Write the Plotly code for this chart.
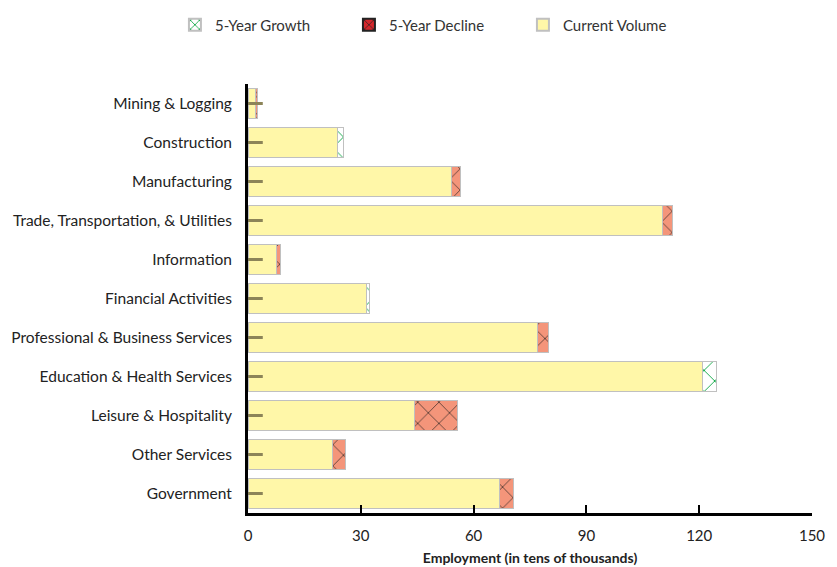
import plotly.graph_objects as go

categories = ["Mining & Logging", "Construction", "Manufacturing",
              "Trade, Transportation, & Utilities", "Information",
              "Financial Activities", "Professional & Business Services",
              "Education & Health Services", "Leisure & Hospitality",
              "Other Services", "Government"]
current_volume = [1.9, 23.7, 54.0, 110.2, 7.7, 31.4, 76.9, 121.0, 44.4, 22.6, 66.8]
growth_5yr = [0, 1.6, 0, 0, 0, 1.0, 0, 3.5, 0, 0, 0]
decline_5yr = [0.7, 0, 2.6, 2.6, 1.0, 0, 2.9, 0, 11.4, 3.2, 3.7]
base_marker = [1.7] * len(categories)
x_ticks = [0, 30, 60, 90, 120, 150]

FONT = "Lato, Open Sans, sans-serif"
border = dict(color="#c0c0c0", width=1)

fig = go.Figure()
fig.add_trace(go.Bar(y=categories, x=current_volume, orientation="h", name="Current Volume",
                     marker=dict(color="#FFF7A8", line=border), width=0.75,
                     showlegend=False))
fig.add_trace(go.Bar(y=categories, x=growth_5yr, orientation="h", name="5-Year Growth",
                     marker=dict(color="white", line=border,
                                 pattern=dict(shape="x", fgcolor="#0FA845", bgcolor="white",
                                              size=15, solidity=0.12, fgopacity=1)),
                     width=0.75, showlegend=False))
fig.add_trace(go.Bar(y=categories, x=decline_5yr, orientation="h", name="5-Year Decline",
                     marker=dict(color="#F4957A", line=border,
                                 pattern=dict(shape="x", fgcolor="#1a1a1a", bgcolor="#F4957A",
                                              size=15, solidity=0.08, fgopacity=1)),
                     width=0.75, showlegend=False))
fig.add_trace(go.Scatter(y=categories, x=base_marker, mode="markers", showlegend=False,
                         hoverinfo="skip",
                         marker=dict(symbol="line-ew", size=12,
                                     line=dict(color="#8C8458", width=3))))

# legend entries
fig.add_trace(go.Bar(y=[None], x=[None], orientation="h", name="5-Year Growth",
                     marker=dict(color="white", line=dict(color="#c0c0c0", width=1),
                                 pattern=dict(shape="x", fgcolor="#0FA845", bgcolor="white",
                                              size=8, solidity=0.25, fgopacity=1))))
fig.add_trace(go.Bar(y=[None], x=[None], orientation="h", name="5-Year Decline",
                     marker=dict(color="#D4262B", line=dict(color="#222222", width=1),
                                 pattern=dict(shape="x", fgcolor="#222222", bgcolor="#D4262B",
                                              size=8, solidity=0.2, fgopacity=1))))
fig.add_trace(go.Bar(y=[None], x=[None], orientation="h", name="Current Volume",
                     marker=dict(color="#FFF7A8", line=dict(color="#c0c0c0", width=1))))

fig.update_layout(
    barmode="stack",
    width=837, height=567,
    margin=dict(l=248, r=25, t=84, b=54, autoexpand=False),
    paper_bgcolor="white", plot_bgcolor="white",
    font=dict(family=FONT, size=15, color="#222222"),
    bargap=0.25,
    legend=dict(orientation="h", xref="container", yref="container",
                x=0.209, xanchor="left", y=0.985, yanchor="top",
                traceorder="normal",
                entrywidth=129, entrywidthmode="pixels",
                font=dict(size=15, family=FONT, color="#333333"),
                itemsizing="constant"),
    xaxis=dict(range=[0, 150], tickvals=x_ticks, ticks="inside", ticklen=8, tickwidth=2,
               tickcolor="black", showline=True, linecolor="black", linewidth=3,
               showgrid=False, zeroline=False, fixedrange=True,
               ticklabelstandoff=7,
               tickfont=dict(size=15, family=FONT),
               title=dict(text="<b>Employment (in tens of thousands)</b>",
                          font=dict(size=14, family=FONT), standoff=11)),
    yaxis=dict(categoryorder="array", categoryarray=categories[::-1],
               range=[-0.5, len(categories) - 0.5], fixedrange=True,
               showline=True, linecolor="black", linewidth=3, ticks="",
               showgrid=False, zeroline=False, ticklabelstandoff=10,
               tickfont=dict(size=15.5, family=FONT)),
)

fig.write_html("out.html")
